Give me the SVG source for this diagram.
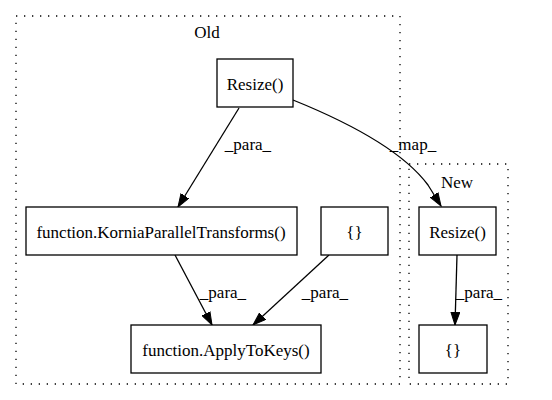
<svg xmlns="http://www.w3.org/2000/svg" width="552" height="400" viewBox="0 0 552 400">
<style>
.cl{fill:none;stroke:#000;stroke-width:1.3;stroke-dasharray:1.3,6.7}
.nd{fill:#fff;stroke:#000;stroke-width:1.3}
.t{font-family:"Liberation Serif","Times New Roman",serif;font-size:17px;fill:#000;text-anchor:middle}
.e{fill:none;stroke:#000;stroke-width:1.3}
</style>
<defs>
<marker id="ah" markerUnits="userSpaceOnUse" markerWidth="14" markerHeight="10" viewBox="0 0 14 10" refX="13" refY="5" orient="auto">
<path d="M0,0.5 L13,5 L0,9.5 Z" fill="#000" stroke="#000"/>
</marker>
</defs>
<rect width="552" height="400" fill="#fff"/>
<g id="cluster_old">
<rect class="cl" x="16" y="16" width="384" height="368"/>
<text class="t" x="207" y="38">Old</text>
</g>
<g id="cluster_new">
<rect class="cl" x="409" y="164" width="99" height="220"/>
<text class="t" x="457" y="188">New</text>
</g>
<g id="edges">
<path class="e" d="M239,108 L178,207" marker-end="url(#ah)"/>
<text class="t" x="248" y="150">_para_</text>
<path class="e" d="M293,100 C345,121 402,150 428,185 L441,206" marker-end="url(#ah)"/>
<text class="t" x="413" y="150">_map_</text>
<path class="e" d="M175,255 L212,325" marker-end="url(#ah)"/>
<text class="t" x="223" y="298">_para_</text>
<path class="e" d="M329,255 L253,325" marker-end="url(#ah)"/>
<text class="t" x="325" y="298">_para_</text>
<path class="e" d="M457,255 L455,325" marker-end="url(#ah)"/>
<text class="t" x="479" y="298">_para_</text>
</g>
<g id="node_resize_old">
<rect class="nd" x="217" y="59" width="76" height="48"/>
<text class="t" x="255" y="90">Resize()</text>
</g>
<g id="node_kornia">
<rect class="nd" x="26" y="207" width="271" height="48"/>
<text class="t" x="161" y="238">function.KorniaParallelTransforms()</text>
</g>
<g id="node_dict_old">
<rect class="nd" x="321" y="207" width="67" height="48"/>
<text class="t" x="354.5" y="238">{}</text>
</g>
<g id="node_apply">
<rect class="nd" x="131" y="325" width="190" height="48"/>
<text class="t" x="226" y="356">function.ApplyToKeys()</text>
</g>
<g id="node_resize_new">
<rect class="nd" x="419" y="207" width="77" height="48"/>
<text class="t" x="457.5" y="238">Resize()</text>
</g>
<g id="node_dict_new">
<rect class="nd" x="419" y="325" width="68" height="48"/>
<text class="t" x="453" y="356">{}</text>
</g>
</svg>
